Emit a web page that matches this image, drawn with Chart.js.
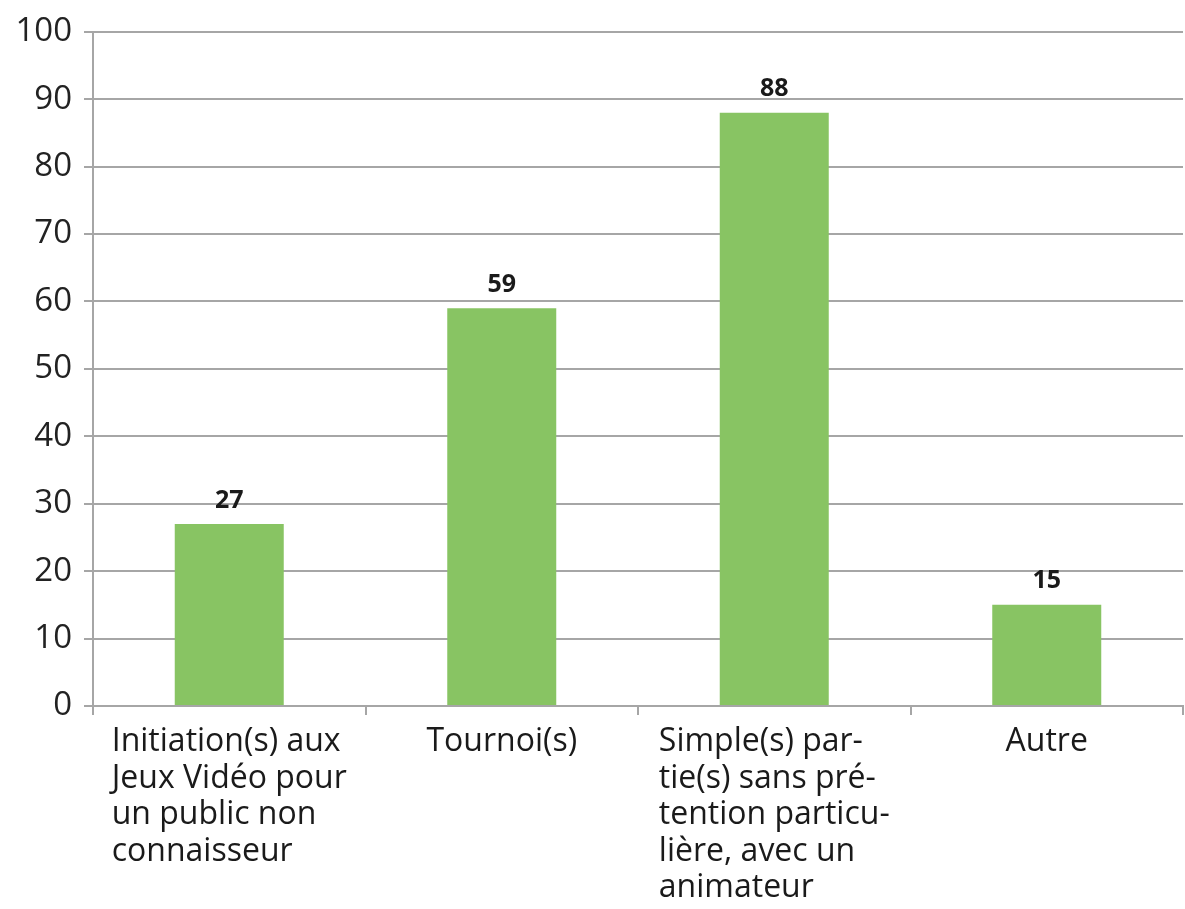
<!DOCTYPE html>
<html>
<head>
<meta charset="utf-8">
<script src="https://cdn.jsdelivr.net/npm/chart.js@4/dist/chart.umd.min.js"></script>
<style>
  html, body { margin: 0; padding: 0; background: #fff; }
  #wrap { width: 1185px; height: 909px; }
</style>
</head>
<body>
<div id="wrap"><canvas id="activityChart" width="1185" height="909"></canvas></div>
<script>
const categories = [
  ['Initiation(s) aux', 'Jeux Vidéo pour', 'un public non', 'connaisseur'],
  ['Tournoi(s)'],
  ['Simple(s) par-', 'tie(s) sans pré-', 'tention particu-', 'lière, avec un', 'animateur'],
  ['Autre']
];
const counts = [27, 59, 88, 15];
const yTicks = { min: 0, max: 100, step: 10 };

const FONT = '"Open Sans", "Liberation Sans", sans-serif';
const gridColor = '#a6a6a6';

// values above each bar
const valueLabels = {
  id: 'valueLabels',
  afterDatasetsDraw(chart) {
    const ctx = chart.ctx;
    const meta = chart.getDatasetMeta(0);
    ctx.save();
    ctx.font = 'bold 25px ' + FONT;
    ctx.fillStyle = '#1a1a1a';
    ctx.textAlign = 'center';
    ctx.textBaseline = 'bottom';
    meta.data.forEach((bar, i) => {
      ctx.fillText(String(counts[i]), bar.x, bar.y - 11);
    });
    ctx.restore();
  }
};

// multi-line category labels, left aligned inside a centred block
const categoryLabels = {
  id: 'categoryLabels',
  afterDraw(chart) {
    const ctx = chart.ctx;
    const xScale = chart.scales.x;
    ctx.save();
    ctx.font = '32px ' + FONT;
    ctx.fillStyle = '#1a1a1a';
    ctx.textAlign = 'left';
    ctx.textBaseline = 'top';
    categories.forEach((lines, i) => {
      const cx = xScale.getPixelForValue(i);
      const w = Math.max(...lines.map(l => ctx.measureText(l).width));
      const left = cx - w / 2;
      lines.forEach((line, j) => {
        ctx.fillText(line, left, chart.chartArea.bottom + 20 + j * 36.5);
      });
    });
    ctx.restore();
  }
};

new Chart(document.getElementById('activityChart'), {
  type: 'bar',
  data: {
    labels: categories.map(c => c.join(' ')),
    datasets: [{
      data: counts,
      backgroundColor: '#88c463',
      borderWidth: 0,
      categoryPercentage: 1,
      barPercentage: 0.4
    }]
  },
  options: {
    responsive: false,
    animation: false,
    layout: { padding: { top: 29, right: 2, left: 0, bottom: 0 } },
    plugins: {
      legend: { display: false },
      tooltip: { enabled: false }
    },
    scales: {
      x: {
        grid: {
          offset: true,
          drawOnChartArea: false,
          color: gridColor,
          lineWidth: 2,
          tickLength: 9
        },
        border: { color: gridColor, width: 2 },
        ticks: { display: false },
        afterFit(scale) { scale.height = 203; }
      },
      y: {
        min: yTicks.min,
        max: yTicks.max,
        grid: { color: gridColor, lineWidth: 2, tickLength: 9 },
        border: { color: gridColor, width: 2 },
        ticks: {
          stepSize: yTicks.step,
          color: '#222',
          padding: 12,
          font: { family: FONT, size: 33 }
        },
        afterFit(scale) { scale.width = 93; }
      }
    }
  },
  plugins: [valueLabels, categoryLabels]
});
</script>
</body>
</html>
